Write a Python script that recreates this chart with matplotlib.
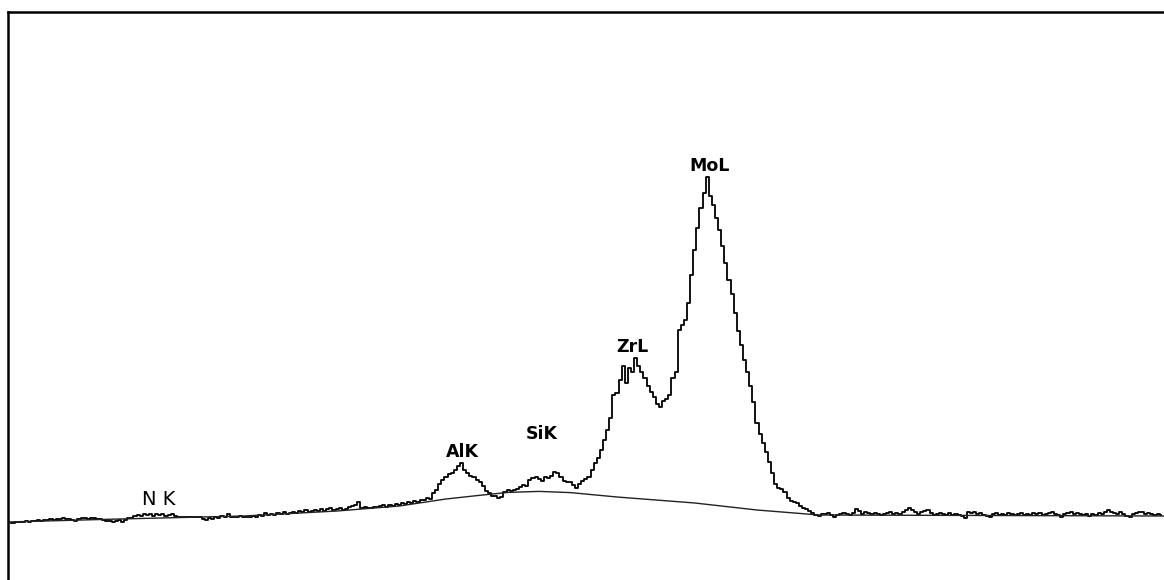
import numpy as np
import matplotlib
matplotlib.use('Agg')
import matplotlib.pyplot as plt

# spectrum channels, 10 eV wide, 0.05 .. 3.75 keV
energy = np.linspace(0.05, 3.75, 371)
counts = [
    35, 35, 40, 40, 40, 45, 40, 45, 45, 50,
    45, 50, 50, 55, 50, 55, 55, 60, 55, 55,
    50, 45, 55, 60, 60, 55, 60, 60, 55, 55,
    50, 45, 45, 40, 45, 50, 40, 50, 60, 60,
    70, 75, 70, 80, 75, 80, 70, 80, 75, 80,
    70, 75, 80, 70, 65, 65, 65, 65, 65, 65,
    65, 65, 55, 50, 60, 55, 65, 60, 70, 65,
    80, 65, 65, 65, 70, 65, 65, 65, 70, 65,
    75, 70, 85, 75, 80, 75, 85, 80, 90, 80,
    85, 90, 85, 95, 90, 100, 90, 95, 100, 95,
    105, 95, 105, 110, 100, 105, 110, 100, 105, 115,
    120, 125, 140, 110, 115, 110, 110, 115, 115, 120,
    125, 115, 125, 120, 130, 125, 135, 130, 140, 135,
    145, 140, 150, 150, 160, 155, 185, 200, 230, 250,
    265, 280, 285, 300, 320, 335, 300, 285, 270, 265,
    250, 240, 220, 195, 185, 170, 170, 160, 165, 190,
    200, 195, 200, 205, 215, 225, 220, 250, 260, 265,
    255, 245, 265, 260, 270, 290, 285, 265, 245, 240,
    240, 225, 210, 230, 245, 255, 265, 300, 335, 360,
    400, 450, 500, 560, 675, 685, 750, 820, 735, 810,
    790, 860, 820, 790, 760, 720, 690, 665, 630, 615,
    645, 655, 675, 760, 790, 1000, 1025, 1050, 1135, 1275,
    1400, 1510, 1610, 1685, 1765, 1670, 1625, 1560, 1500, 1420,
    1335, 1250, 1180, 1085, 995, 925, 850, 790, 720, 640,
    535, 480, 435, 390, 340, 285, 230, 210, 205, 190,
    160, 145, 140, 135, 120, 110, 105, 95, 85, 75,
    70, 80, 80, 85, 75, 65, 75, 80, 85, 80,
    75, 85, 105, 95, 80, 90, 85, 80, 85, 80,
    75, 80, 85, 90, 80, 85, 80, 90, 100, 110,
    100, 90, 80, 90, 95, 100, 85, 75, 80, 85,
    80, 75, 85, 75, 80, 75, 70, 60, 90, 85,
    90, 80, 85, 75, 70, 65, 80, 85, 75, 80,
    75, 85, 80, 75, 80, 85, 75, 80, 75, 85,
    80, 85, 75, 80, 85, 90, 80, 75, 65, 80,
    85, 90, 80, 85, 80, 75, 80, 70, 80, 75,
    85, 80, 90, 100, 90, 85, 80, 90, 80, 70,
    65, 80, 85, 90, 90, 80, 85, 80, 75, 80,
    75,
]

# fitted continuum (bremsstrahlung) knots
bg_energy = [0.04, 0.40, 0.80, 1.10, 1.30, 1.45, 1.55, 1.65, 1.75, 1.85, 2.00, 2.25, 2.45, 2.65, 3.76]
bg_counts = [40, 55, 70, 95, 120, 155, 172, 188, 193, 187, 165, 135, 100, 75, 70]

# peak labels
peak_names = ['N K', 'AlK', 'SiK', 'ZrL', 'MoL']
peak_energy = [0.527, 1.502, 1.759, 2.048, 2.299]
peak_label_y = [125, 365, 455, 890, 1795]
peak_bold = [False, True, True, True, True]
peak_size = [14, 12.5, 12.5, 12.5, 12.5]


def main():
    fig = plt.figure(figsize=(11.64, 5.80), dpi=100)
    ax = fig.add_axes([8 / 1164, 0, 1 - 8 / 1164, 568 / 580])

    ax.plot(energy, counts, color='black', lw=1.3, drawstyle='steps-mid')
    ax.plot(bg_energy, bg_counts, color='#222222', lw=1.0)

    for name, e, y, bold, size in zip(peak_names, peak_energy, peak_label_y, peak_bold, peak_size):
        ax.text(e, y, name, ha='center', va='baseline', fontsize=size,
                family='DejaVu Sans', weight='bold' if bold else 'normal')

    ax.set_xlim(0.0418, 3.7588)
    ax.set_ylim(-250, 2590)
    ax.set_xticks([])
    ax.set_yticks([])
    ax.spines['right'].set_visible(False)
    ax.spines['bottom'].set_visible(False)
    ax.spines['left'].set_linewidth(1.8)
    ax.spines['top'].set_linewidth(1.8)

    fig.savefig('out.png', dpi=100)


if __name__ == '__main__':
    main()
